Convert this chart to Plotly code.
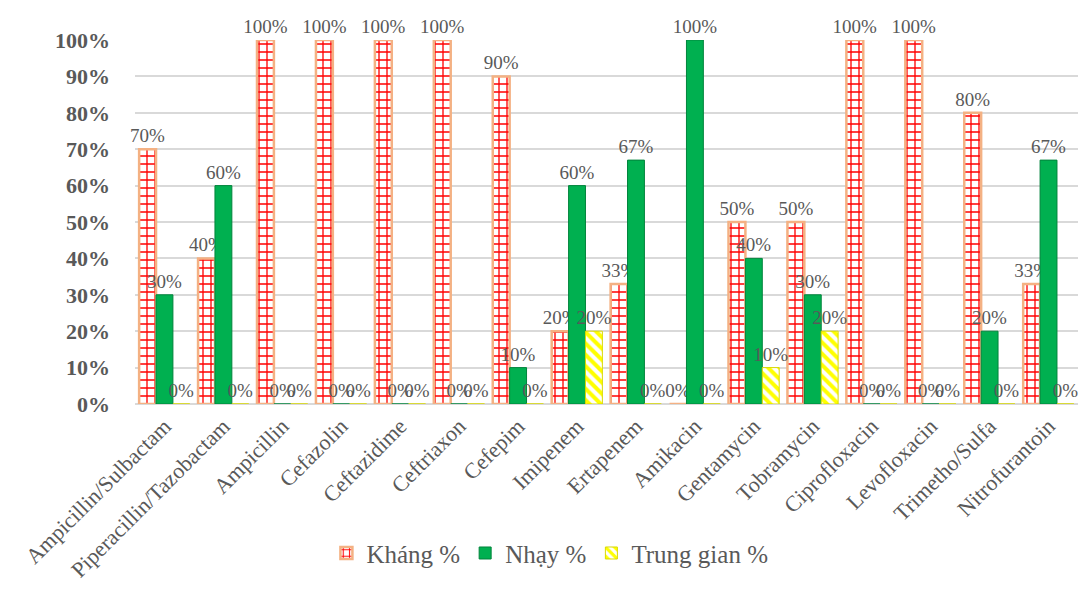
import plotly.graph_objects as go

categories = ["Ampicillin/Sulbactam", "Piperacillin/Tazobactam", "Ampicillin", "Cefazolin",
              "Ceftazidime", "Ceftriaxon", "Cefepim", "Imipenem", "Ertapenem", "Amikacin",
              "Gentamycin", "Tobramycin", "Ciprofloxacin", "Levofloxacin", "Trimetho/Sulfa",
              "Nitrofurantoin"]
khang = [70, 40, 100, 100, 100, 100, 90, 20, 33, 0, 50, 50, 100, 100, 80, 33]
nhay = [30, 60, 0, 0, 0, 0, 10, 60, 67, 100, 40, 30, 0, 0, 20, 67]
trung_gian = [0, 0, 0, 0, 0, 0, 0, 20, 0, 0, 10, 20, 0, 0, 0, 0]
series_names = ["Kháng %", "Nhạy %", "Trung gian %"]

FONT = "Liberation Serif"
GRAY = "#595959"

def frac(v):
    return [x / 100 for x in v]

fig = go.Figure()
fig.add_trace(go.Bar(
    name=series_names[0], x=categories, y=frac(khang),
    text=[f"{v}%" for v in khang], textposition="outside",
    marker=dict(color="white", line=dict(color="#F4B183", width=2.5),
                pattern=dict(shape="+", fgcolor="#FF0000", bgcolor="white", size=8,
                             solidity=0.3, fgopacity=1)),
))
fig.add_trace(go.Bar(
    name=series_names[1], x=categories, y=frac(nhay),
    text=[f"{v}%" for v in nhay], textposition="outside",
    marker=dict(color="#00B050", line=dict(color="#00843C", width=1)),
))
fig.add_trace(go.Bar(
    name=series_names[2], x=categories, y=frac(trung_gian),
    text=[f"{v}%" for v in trung_gian], textposition="outside",
    marker=dict(color="white", line=dict(color="#D9D900", width=1),
                pattern=dict(shape="\\", fgcolor="#FFFF00", bgcolor="white", size=8,
                             solidity=0.5, fgopacity=1)),
))

fig.update_traces(textfont=dict(family=FONT, size=19, color=GRAY), cliponaxis=False,
                  constraintext="none")

fig.update_layout(
    width=1088, height=601,
    margin=dict(l=135, r=10, t=40, b=197),
    paper_bgcolor="white", plot_bgcolor="white",
    barmode="group", bargap=0.14, bargroupgap=0.0,
    font=dict(family=FONT, color=GRAY),
    legend=dict(orientation="h", x=0.44, xanchor="center", y=-0.41, yanchor="middle",
                font=dict(family=FONT, size=25, color=GRAY), itemwidth=30,
                tracegroupgap=0),
    xaxis=dict(tickangle=-45, tickfont=dict(family=FONT, size=22, color=GRAY),
               showline=False, ticks="", ticklabelstandoff=4),
    yaxis=dict(range=[0, 1.0], dtick=0.1, tickformat=".0%",
               tickfont=dict(family=FONT, size=22, color=GRAY),
               gridcolor="#D9D9D9", gridwidth=2, zeroline=True, zerolinecolor="#D9D9D9",
               zerolinewidth=2, ticks="", ticklabelstandoff=24,
               tickprefix="<b>", ticksuffix="</b>"),
)

fig.write_html("out.html")
